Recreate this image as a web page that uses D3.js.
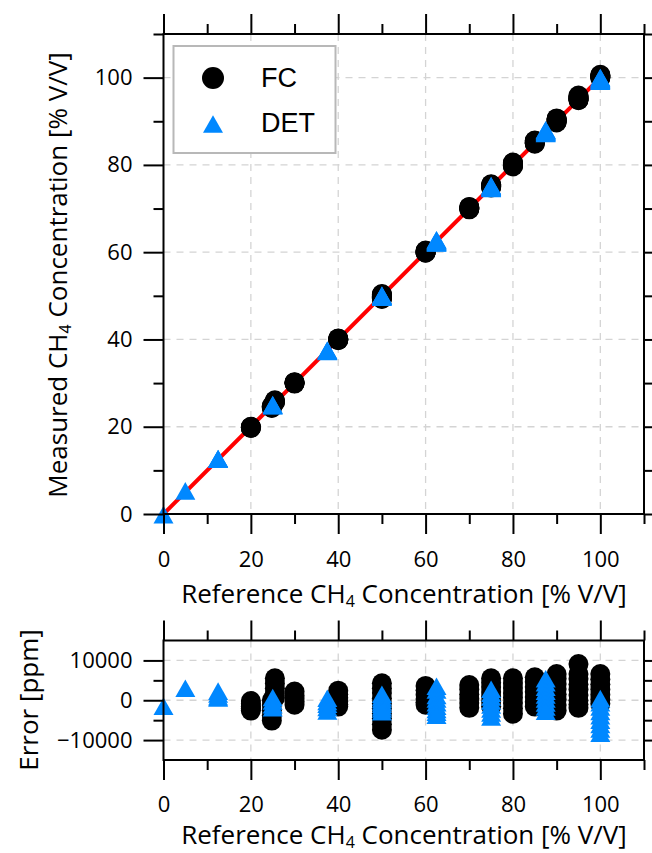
<!DOCTYPE html>
<html>
<head>
<meta charset="utf-8">
<script src="https://cdn.jsdelivr.net/npm/d3@7"></script>
<style>
  html, body { margin: 0; padding: 0; background: #fff; }
  svg { display: block; }
</style>
</head>
<body>
<div id="container"></div>
<script>
//### DATA ###
//>>> FC (fuel cell sensor) reference concentrations [% V/V] and their errors [ppm]
const fcRef = [ 20, 24.8, 25.5, 30, 40, 50, 60, 70, 75, 80, 85, 90, 95, 100 ];
const fcErr = [
  [ -200, -900, -1600, -2100, -2600 ],
  [ 0, -1200, -2500, -3800, -5100 ],
  [ 5500, 4200, 3000, 1800, 600 ],
  [ 2200, 1200, 400, -300, -1100 ],
  [ 2400, 1500, 600, -300, -1000, -1600 ],
  [ 4250, 3000, 1800, 500, -800, -2000, -3300, -4500, -6000, -7400 ],
  [ 3600, 2500, 1400, 300, -500, -1100 ],
  [ 3800, 2700, 1500, 400, -700, -1900 ],
  [ 5500, 4400, 3300, 2100, 900, -300, -1500 ],
  [ 5500, 4300, 3100, 1800, 600, -700, -2000, -3400 ],
  [ 5750, 4600, 3300, 2100, 800, -400, -1600 ],
  [ 6600, 5400, 4100, 2800, 1500, 200, -1200, -2600 ],
  [ 9100, 6600, 5400, 4000, 2700, 1300, 0, -1000, -1900 ],
  [ 6600, 5300, 4000, 2700, 1400, 200, -900 ]
];

//>>> DET (detector) reference concentrations [% V/V] and their errors [ppm]
const detRef = [ 0, 5, 12.5, 25, 37.5, 50, 62.5, 75, 87.5, 100 ];
const detErr = [
  [ -1500 ],
  [ 3000 ],
  [ 2300, 1600, 900, 600 ],
  [ 700, -200, -1100, -1900 ],
  [ 500, -300, -1000, -1800, -2700 ],
  [ 1500, 800, 200, -400, -1000, -1600, -2200, -2900 ],
  [ 3500, 2600, 1200, 300, -600, -1500, -2300, -3000, -3750 ],
  [ 2750, 1800, 800, -200, -1200, -2200, -3200, -4200 ],
  [ 5400, 4400, 3300, 2300, 1300, 300, -700, -1700, -2750 ],
  [ 400, -600, -1700, -2800, -3900, -5000, -6100, -7200, -8300 ]
];

//>>> 1:1 line and ticks
const identityLine = [ 0, 100 ];
const concTicks = [ 0, 20, 40, 60, 80, 100 ];
const concMinor = [ 10, 30, 50, 70, 90, 110 ];
const errTicks = [ -10000, 0, 10000 ];
const errMinor = [ -5000, 5000 ];
const legendItems = [ 'FC', 'DET' ];


//### FLATTEN TO POINTS ###
//::::: 10000 ppm = 1 % V/V
function toPoints ( refs, errs ) {
  const pts = [];
  refs.forEach( ( r, i ) => errs[ i ].forEach( e => pts.push( { ref: r, err: e, meas: r + e / 10000 } ) ) );
  return pts;
}
const fcPoints = toPoints( fcRef, fcErr );
const detPoints = toPoints( detRef, detErr );


//### LAYOUT ###
const width = 652;
const height = 853;
const left = 163.5, right = 644;
const topPanel = { top: 34, bottom: 514 };
const botPanel = { top: 640.5, bottom: 760 };

const blue = '#0088ff';
const gridColor = '#d4d4d4';
const fontFamily = '"Open Sans", sans-serif';

const svg = d3.select( '#container' ).append( 'svg' )
  .attr( 'width', width )
  .attr( 'height', height );

//_____ SCALES _____
const x = d3.scaleLinear().domain( [ 0, 110 ] ).range( [ left, right ] );
const yTop = d3.scaleLinear().domain( [ 0, 110 ] ).range( [ topPanel.bottom, topPanel.top ] );
const yBot = d3.scaleLinear().domain( [ -15000, 15000 ] ).range( [ botPanel.bottom, botPanel.top ] );

const triangle = 'M0,-8.8L10,8.8L-10,8.8Z';


//### HELPERS ###
function grid ( g, y, yVals, p ) {
  g.selectAll( null ).data( concTicks.filter( d => d > 0 ) ).enter().append( 'line' )
    .attr( 'x1', d => x( d ) ).attr( 'x2', d => x( d ) )
    .attr( 'y1', p.top ).attr( 'y2', p.bottom );
  g.selectAll( null ).data( yVals ).enter().append( 'line' )
    .attr( 'x1', left ).attr( 'x2', right )
    .attr( 'y1', d => y( d ) ).attr( 'y2', d => y( d ) );
  g.selectAll( 'line' )
    .attr( 'stroke', gridColor )
    .attr( 'stroke-width', 1.3 )
    .attr( 'stroke-dasharray', '7,6' );
}

function styleAxis ( g ) {
  g.select( '.domain' ).remove();
  g.selectAll( 'line' ).attr( 'stroke', '#000' ).attr( 'stroke-width', 2 );
  g.selectAll( 'text' )
    .attr( 'fill', '#000' )
    .style( 'font-family', fontFamily )
    .style( 'font-size', '22px' );
}

function axes ( y, p, yMajor, yMinor, xPad, fmt ) {
  const ax = svg.append( 'g' );
  //>>> bottom axis (labels) + minor
  ax.append( 'g' ).attr( 'transform', `translate(0,${p.bottom})` )
    .call( d3.axisBottom( x ).tickValues( concTicks ).tickSize( 20 ).tickPadding( xPad ) )
    .call( styleAxis );
  ax.append( 'g' ).attr( 'transform', `translate(0,${p.bottom})` )
    .call( d3.axisBottom( x ).tickValues( concMinor ).tickSize( 10 ).tickFormat( '' ) )
    .call( styleAxis );
  //>>> top axis, ticks only
  ax.append( 'g' ).attr( 'transform', `translate(0,${p.top})` )
    .call( d3.axisTop( x ).tickValues( concTicks ).tickSize( 20 ).tickFormat( '' ) )
    .call( styleAxis );
  ax.append( 'g' ).attr( 'transform', `translate(0,${p.top})` )
    .call( d3.axisTop( x ).tickValues( concMinor ).tickSize( 10 ).tickFormat( '' ) )
    .call( styleAxis );
  //>>> left axis (labels) + minor
  ax.append( 'g' ).attr( 'transform', `translate(${left},0)` )
    .call( d3.axisLeft( y ).tickValues( yMajor ).tickSize( 20 ).tickPadding( 11 ).tickFormat( fmt ) )
    .call( styleAxis );
  ax.append( 'g' ).attr( 'transform', `translate(${left},0)` )
    .call( d3.axisLeft( y ).tickValues( yMinor ).tickSize( 10 ).tickFormat( '' ) )
    .call( styleAxis );
  //>>> right axis, ticks only
  ax.append( 'g' ).attr( 'transform', `translate(${right},0)` )
    .call( d3.axisRight( y ).tickValues( yMajor.concat( yMinor ) ).tickSize( 10 ).tickFormat( '' ) )
    .call( styleAxis );
  //>>> frame
  ax.append( 'rect' )
    .attr( 'x', left ).attr( 'y', p.top )
    .attr( 'width', right - left ).attr( 'height', p.bottom - p.top )
    .attr( 'fill', 'none' ).attr( 'stroke', '#000' ).attr( 'stroke-width', 2 );
}

function chLabel ( g, before, after ) {
  const t = g.append( 'text' )
    .attr( 'text-anchor', 'middle' )
    .style( 'font-family', fontFamily )
    .style( 'font-size', '26px' )
    .attr( 'fill', '#000' );
  t.append( 'tspan' ).text( before + 'CH' );
  t.append( 'tspan' ).attr( 'dy', 4 ).style( 'font-size', '16px' ).text( '4' );
  t.append( 'tspan' ).attr( 'dy', -4 ).text( after );
  return t;
}

function markers ( g, y, sel ) {
  const circ = g.append( 'g' );
  circ.selectAll( 'circle' ).data( fcPoints ).enter().append( 'circle' )
    .attr( 'cx', d => x( d.ref ) )
    .attr( 'cy', d => y( d[ sel ] ) )
    .attr( 'r', 10 )
    .attr( 'fill', '#000' );
  const tri = g.append( 'g' );
  tri.selectAll( 'path' ).data( detPoints ).enter().append( 'path' )
    .attr( 'd', triangle )
    .attr( 'transform', d => `translate(${x( d.ref )},${y( d[ sel ] )})` )
    .attr( 'fill', blue );
}


//### TOP PANEL ###
grid( svg.append( 'g' ), yTop, [ 20, 40, 60, 80, 100 ], topPanel );

//>>> 1:1 line
svg.append( 'line' )
  .attr( 'x1', x( identityLine[ 0 ] ) ).attr( 'y1', yTop( identityLine[ 0 ] ) )
  .attr( 'x2', x( identityLine[ 1 ] ) ).attr( 'y2', yTop( identityLine[ 1 ] ) )
  .attr( 'stroke', '#ff0000' )
  .attr( 'stroke-width', 4 );

markers( svg.append( 'g' ), yTop, 'meas' );
axes( yTop, topPanel, concTicks, concMinor, 17, d3.format( 'd' ) );

//>>> legend
const legend = svg.append( 'g' ).attr( 'id', 'legend' );
legend.append( 'rect' )
  .attr( 'x', 173.5 ).attr( 'y', 46 )
  .attr( 'width', 162 ).attr( 'height', 107 )
  .attr( 'fill', '#fff' )
  .attr( 'stroke', '#b8b8b8' )
  .attr( 'stroke-width', 2 );
legend.append( 'circle' ).attr( 'cx', 213 ).attr( 'cy', 78 ).attr( 'r', 11 ).attr( 'fill', '#000' );
legend.append( 'path' ).attr( 'd', triangle ).attr( 'transform', 'translate(213,124)' ).attr( 'fill', blue );
legend.selectAll( 'text' ).data( legendItems ).enter().append( 'text' )
  .attr( 'x', 261 )
  .attr( 'y', ( d, i ) => 87 + i * 45 )
  .style( 'font-family', '"Liberation Sans", Arial, sans-serif' )
  .style( 'font-size', '27px' )
  .attr( 'fill', '#000' )
  .text( d => d );

//>>> axis titles
chLabel( svg, 'Reference ', ' Concentration [% V/V]' )
  .attr( 'x', 404 ).attr( 'y', 603 );
chLabel( svg.append( 'g' ).attr( 'transform', 'translate(67,275) rotate(-90)' ), 'Measured ', ' Concentration [% V/V]' );


//### BOTTOM PANEL ###
grid( svg.append( 'g' ), yBot, errTicks, botPanel );
markers( svg.append( 'g' ), yBot, 'err' );
axes( yBot, botPanel, errTicks, errMinor, 16, d => d < 0 ? '\u2212' + Math.abs( d ) : d );

chLabel( svg, 'Reference ', ' Concentration [% V/V]' )
  .attr( 'x', 404 ).attr( 'y', 844 );
svg.append( 'text' )
  .attr( 'transform', 'translate(38,700) rotate(-90)' )
  .attr( 'text-anchor', 'middle' )
  .style( 'font-family', fontFamily )
  .style( 'font-size', '26px' )
  .attr( 'fill', '#000' )
  .text( 'Error [ppm]' );
</script>
</body>
</html>
